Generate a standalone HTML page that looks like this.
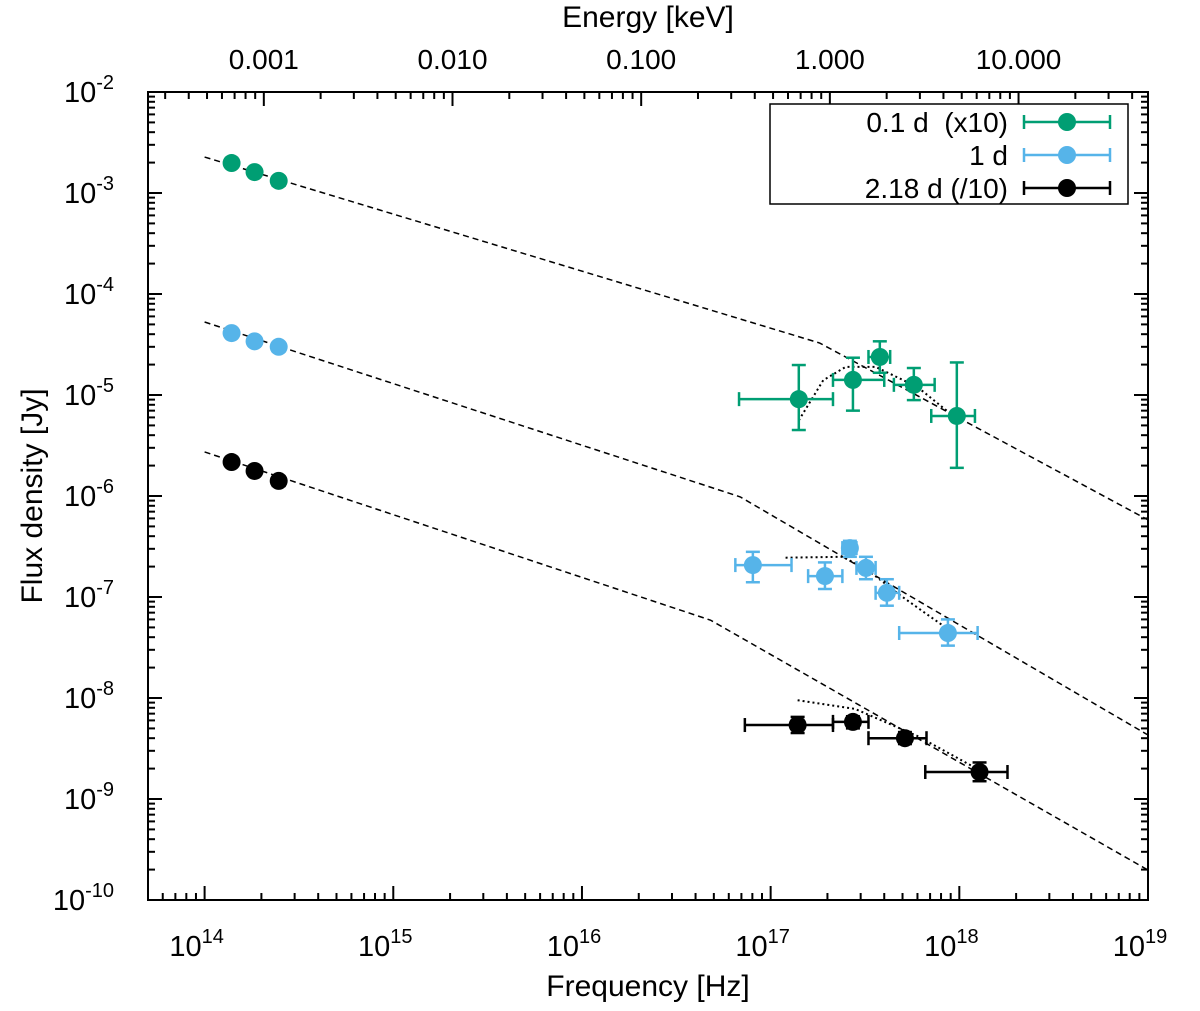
<!DOCTYPE html>
<html><head><meta charset="utf-8"><style>
body{margin:0;background:#fff}
svg{font-family:"Liberation Sans",sans-serif}
</style></head><body>
<svg id="c" width="1200" height="1006"></svg>
<script>
const xTickExps=[14,15,16,17,18,19];
const yTickExps=[-2,-3,-4,-5,-6,-7,-8,-9,-10];
const eTickLabels=["0.001","0.010","0.100","1.000","10.000"];
const eTickVals=[0.001,0.01,0.1,1,10];
const seriesNames=["0.1 d\u00a0\u00a0(x10)","1 d","2.18 d (/10)"];
const seriesColors=["#009e73","#56b4e9","#000000"];
// points: nu, F, nuLo, nuHi, FLo, FHi
const greenPts=[[1.39e14,1.98e-3,0,0,1.86e-3,2.1e-3],[1.84e14,1.61e-3,0,0,1.5e-3,1.72e-3],[2.47e14,1.32e-3,0,0,1.18e-3,1.46e-3],
[1.41e17,9.1e-6,6.8e16,2.14e17,4.5e-6,1.98e-5],[2.73e17,1.41e-5,2.14e17,4.0e17,7.0e-6,2.34e-5],[3.79e17,2.38e-5,3.3e17,4.3e17,1.66e-5,3.4e-5],[5.74e17,1.26e-5,4.5e17,7.4e17,8.9e-6,1.85e-5],[9.7e17,6.2e-6,7.1e17,1.21e18,1.9e-6,2.1e-5]];
const bluePts=[[1.39e14,4.1e-5,0,0,3.8e-5,4.4e-5],[1.84e14,3.4e-5,0,0,3.15e-5,3.65e-5],[2.47e14,3.0e-5,0,0,2.7e-5,3.3e-5],
[8.05e16,2.07e-7,6.5e16,1.29e17,1.4e-7,2.8e-7],[1.94e17,1.61e-7,1.58e17,2.4e17,1.2e-7,2.2e-7],[2.63e17,3.05e-7,2.4e17,2.85e17,2.5e-7,3.6e-7],[3.2e17,1.94e-7,2.85e17,3.6e17,1.5e-7,2.5e-7],[4.13e17,1.1e-7,3.6e17,4.8e17,8.2e-8,1.5e-7],[8.7e17,4.4e-8,4.8e17,1.25e18,3.3e-8,6.0e-8]];
const blackPts=[[1.39e14,2.17e-6,0,0,2.0e-6,2.35e-6],[1.84e14,1.77e-6,0,0,1.63e-6,1.92e-6],[2.47e14,1.41e-6,0,0,1.26e-6,1.56e-6],
[1.39e17,5.4e-9,7.3e16,2.14e17,4.5e-9,6.5e-9],[2.73e17,5.8e-9,2.14e17,3.3e17,5.0e-9,6.6e-9],[5.15e17,4.0e-9,3.3e17,6.7e17,3.5e-9,4.6e-9],[1.28e18,1.85e-9,6.6e17,1.8e18,1.5e-9,2.3e-9]];
const greenModel=[[1e14,2.27e-3],[1.82e17,3.27e-5],[1e19,5.8e-7]];
const blueModel=[[1e14,5.28e-5],[6.9e16,9.8e-7],[1e19,4.3e-9]];
const blackModel=[[1e14,2.73e-6],[4.8e16,5.9e-8],[1e19,1.98e-10]];
const greenFit=[[1.41e17,5.6e-6],[1.9e17,1.4e-5],[2.5e17,1.9e-5],[3.6e17,1.9e-5],[6e17,1.2e-5],[9e17,6.5e-6]];
const blueFit=[[1.2e17,2.45e-7],[2.4e17,2.5e-7],[3.2e17,1.9e-7],[5e17,1.0e-7],[9e17,4.6e-8]];
const blackFit=[[1.39e17,9.5e-9],[2.8e17,7.8e-9],[6e17,4.2e-9],[1.3e18,1.9e-9]];

const L=148,R=1148,T=92,B=900;
const lx0=13.7,lx1=19,ly0=-10,ly1=-2;
const X=v=>L+(Math.log10(v)-lx0)/(lx1-lx0)*(R-L);
const Y=v=>B-(Math.log10(v)-ly0)/(ly1-ly0)*(B-T);
const svg=document.getElementById('c');const NS='http://www.w3.org/2000/svg';
function el(t,a,p){const e=document.createElementNS(NS,t);for(const k in a)e.setAttribute(k,a[k]);(p||svg).appendChild(e);return e;}
function line(x1,y1,x2,y2,s,w,d){return el('line',{x1,y1,x2,y2,stroke:s||'#000','stroke-width':w||2,'stroke-dasharray':d||'none'});}

[greenModel,blueModel,blackModel].forEach((m,i)=>{
 const p=el('polyline',{points:m.map(q=>X(q[0])+','+Y(q[1])).join(' '),fill:'none',stroke:'#000','stroke-width':1.5,'stroke-dasharray':'6,4'});
 
});
[greenFit,blueFit,blackFit].forEach((m,i)=>{
 const p=el('polyline',{points:m.map(q=>X(q[0])+','+Y(q[1])).join(' '),fill:'none',stroke:'#000','stroke-width':2,'stroke-dasharray':'2,3'});
 
});
[greenPts,bluePts,blackPts].forEach((pts,i)=>{
 const c=seriesColors[i];
 const g=el('g',{});
 
 pts.forEach(p=>{
  const x=X(p[0]),y=Y(p[1]);
  if(p[2]>0){const a=X(p[2]),b=X(p[3]);el('line',{x1:a,y1:y,x2:b,y2:y,stroke:c,'stroke-width':2.5},g);
   el('line',{x1:a,y1:y-7,x2:a,y2:y+7,stroke:c,'stroke-width':2.5},g);el('line',{x1:b,y1:y-7,x2:b,y2:y+7,stroke:c,'stroke-width':2.5},g);}
  const lo=Y(p[4]),hi=Y(p[5]);
  el('line',{x1:x,y1:lo,x2:x,y2:hi,stroke:c,'stroke-width':2.5},g);
  el('line',{x1:x-7,y1:lo,x2:x+7,y2:lo,stroke:c,'stroke-width':2.5},g);el('line',{x1:x-7,y1:hi,x2:x+7,y2:hi,stroke:c,'stroke-width':2.5},g);
  const m=el('circle',{cx:x,cy:y,r:9,fill:c},g);
  
 });
});
const fr=el('rect',{x:L,y:T,width:R-L,height:B-T,fill:'none',stroke:'#000','stroke-width':2});

for(let e=13;e<=19;e++){for(let k=1;k<10;k++){const v=k*Math.pow(10,e);const lv=Math.log10(v);if(lv<lx0||lv>lx1)continue;
 const x=X(v),len=k==1?14:7;line(x,B,x,B-len);}}
xTickExps.forEach(e=>{const t=el('text',{x:X(Math.pow(10,e))-8,y:956,'font-size':29,'text-anchor':'middle'});
 
 t.textContent='10';const s=el('tspan',{dy:-13,'font-size':20},t);s.textContent=e;});
for(let e=-10;e<-2;e++){for(let k=1;k<10;k++){const v=k*Math.pow(10,e);const y=Y(v),len=k==1?14:7;line(L,y,L+len,y);line(R,y,R-len,y);}}
yTickExps.forEach(e=>{const t=el('text',{x:114,y:Y(Math.pow(10,e))+10,'font-size':29,'text-anchor':'end'});
 
 t.textContent='10';const s=el('tspan',{dy:-13,'font-size':20},t);s.textContent=e;});
const keV=2.06e17;
for(let e=-4;e<=2;e++){for(let k=1;k<10;k++){const v=k*Math.pow(10,e)*keV;const lv=Math.log10(v);if(lv<lx0||lv>lx1)continue;
 const x=X(v),len=k==1?14:7;line(x,T,x,T+len);}}
eTickVals.forEach((v,i)=>{const t=el('text',{x:X(v*keV),y:69,'font-size':28,'text-anchor':'middle'});
 t.textContent=eTickLabels[i];});
let t=el('text',{x:648,y:996,'font-size':30,'text-anchor':'middle'});t.textContent='Frequency [Hz]';

t=el('text',{x:648,y:27,'font-size':30,'text-anchor':'middle'});t.textContent='Energy [keV]';

t=el('text',{x:0,y:0,'font-size':30,'text-anchor':'middle',transform:'translate(42,496) rotate(-90)'});t.textContent='Flux density [Jy]';

const lg=el('g',{});
el('rect',{x:770,y:104,width:358,height:100,fill:'#fff',stroke:'#000','stroke-width':1.5},lg);
seriesNames.forEach((n,i)=>{const y=122+i*33,c=seriesColors[i];
 const g=el('g',{},lg);
 const tx=el('text',{x:1008,y:y+10,'font-size':28,'text-anchor':'end'},g);tx.textContent=n;
 el('line',{x1:1024,y1:y,x2:1110,y2:y,stroke:c,'stroke-width':2.5},g);
 el('line',{x1:1024,y1:y-7,x2:1024,y2:y+7,stroke:c,'stroke-width':2.5},g);el('line',{x1:1110,y1:y-7,x2:1110,y2:y+7,stroke:c,'stroke-width':2.5},g);
 el('circle',{cx:1067,cy:y,r:9,fill:c},g);});
</script>
</body></html>
